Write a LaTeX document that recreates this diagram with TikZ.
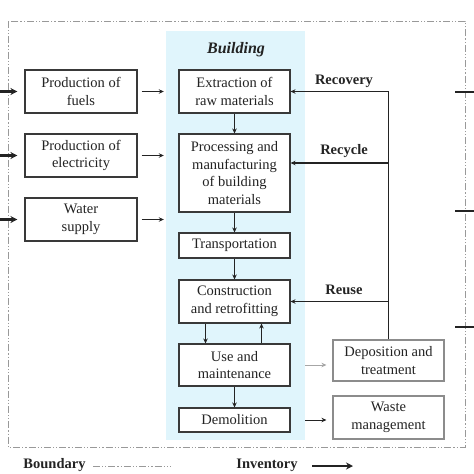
\documentclass[tikz,border=0pt]{standalone}
\usepackage{fontspec}
\setmainfont{Liberation Serif}
\usetikzlibrary{arrows.meta}
\definecolor{bldfill}{RGB}{224,245,252}
\definecolor{ink}{RGB}{35,35,35}
\tikzset{
  box/.style={draw=ink!90, line width=1.1pt, fill=white, align=center, inner sep=0pt,
    font=\fontsize{14.5}{17.5}\selectfont, text=ink},
  lbl/.style={font=\fontsize{14.5}{17.5}\selectfont\bfseries, text=ink},
  arr/.style={draw=ink, line width=0.8pt, -{Stealth[length=5pt,width=4.5pt]}},
  thk/.style={draw=ink, line width=2.6pt, -{Stealth[length=7pt,width=7pt]}},
  bound/.style={draw=gray!80, line width=1pt, dash pattern=on 7pt off 2pt on 1.2pt off 2pt on 1.2pt off 2pt}
}
\begin{document}
\begin{tikzpicture}[x=1pt,y=-1pt]
\useasboundingbox (0,0) rectangle (474,474);
% boundary
\draw[bound] (8,21) rectangle (465,447);
% building area
\node[fill=bldfill, minimum width=139pt, minimum height=409pt, inner sep=0pt] (bld) at (235.5,235.5) {};
\node[font=\fontsize{16}{18}\selectfont\bfseries\itshape, text=ink] (bt) at (236,50) {Building};
% left boxes
\node[box, minimum width=112pt, minimum height=43pt] (fuels) at (81,91.5) {Production of\\fuels};
\node[box, minimum width=112pt, minimum height=43pt] (elec) at (81,155.5) {Production of\\electricity};
\node[box, minimum width=112pt, minimum height=43pt] (water) at (81,219.5) {Water\\supply};
% centre boxes
\node[box, minimum width=111pt, minimum height=43pt] (extr) at (234.5,91.5) {Extraction of\\raw materials};
\node[box, minimum width=111pt, minimum height=78pt] (proc) at (234.5,173) {Processing and\\manufacturing\\of building\\materials};
\node[box, minimum width=111pt, minimum height=25pt] (trans) at (234.5,245.5) {Transportation};
\node[box, minimum width=111pt, minimum height=43pt] (constr) at (234.5,301.5) {Construction\\and retrofitting};
\node[box, minimum width=111pt, minimum height=42pt] (use) at (234.5,365) {Use and\\maintenance};
\node[box, minimum width=111pt, minimum height=24pt] (demo) at (234.5,420) {Demolition};
% right boxes
\node[box, draw=gray!90, minimum width=111pt, minimum height=41pt] (dep) at (388.5,360.5) {Deposition and\\treatment};
\node[box, draw=gray!90, minimum width=111pt, minimum height=43pt] (waste) at (388.5,417.5) {Waste\\management};
% inputs
\coordinate (in1) at (0,91.5);
\coordinate (in2) at (0,155.5);
\coordinate (in3) at (0,219.5);
\draw[thk, shorten >=7pt] (in1) -- (fuels.west);
\draw[thk, shorten >=7pt] (in2) -- (elec.west);
\draw[thk, shorten >=7pt] (in3) -- (water.west);
% left to building
\draw[arr, shorten <=4pt, shorten >=2pt] (fuels.east) -- (fuels.east -| bld.west);
\draw[arr, shorten <=4pt, shorten >=2pt] (elec.east) -- (elec.east -| bld.west);
\draw[arr, shorten <=4pt, shorten >=2pt] (water.east) -- (water.east -| bld.west);
% vertical flow
\draw[arr] (extr) -- (proc);
\draw[arr, line width=1.1pt] (proc) -- (trans);
\draw[arr] (trans) -- (constr);
\draw[arr] ([xshift=-29pt]constr.south) -- ([xshift=-29pt]use.north);
\draw[arr] ([xshift=27pt]use.north) -- ([xshift=27pt]constr.south);
\draw[arr, line width=1.1pt] (use) -- (demo);
% to right boxes
\draw[arr, draw=gray!70, shorten >=6pt] (bld.east |- use) -- (dep.west |- use);
\draw[arr, shorten >=6pt] (bld.east |- demo) -- (waste.west |- demo);
% feedback loops
\coordinate (ry) at (388.5,163);
\draw[arr, line width=1.1pt] (dep.north) -- (dep.north |- extr.east) -- (extr.east);
\draw[arr, line width=1.1pt] (ry) -- (ry -| proc.east);
\draw[arr, line width=1.1pt] (dep.north |- constr.east) -- (constr.east);
\node[lbl] (lrec) at (344,81) {Recovery};
\node[lbl] (lcyc) at (344,151) {Recycle};
\node[lbl] (luse) at (344,290) {Reuse};
% outputs
\coordinate (o1a) at (455,92);  \coordinate (o1b) at (474,92);
\coordinate (o2a) at (455,211); \coordinate (o2b) at (474,211);
\coordinate (o3a) at (455,327); \coordinate (o3b) at (474,327);
\draw[ink, line width=2.6pt] (o1a) -- (o1b);
\draw[ink, line width=2.6pt] (o2a) -- (o2b);
\draw[ink, line width=2.6pt] (o3a) -- (o3b);
% legend
\node[lbl] (lb) at (54.5,465) {Boundary};
\coordinate (lb1) at (93,466); \coordinate (lb2) at (171,466);
\draw[bound] (lb1) -- (lb2);
\node[lbl] (li) at (267,465) {Inventory};
\coordinate (li1) at (312,466); \coordinate (li2) at (353,466);
\draw[thk] (li1) -- (li2);
\end{tikzpicture}
\end{document}
